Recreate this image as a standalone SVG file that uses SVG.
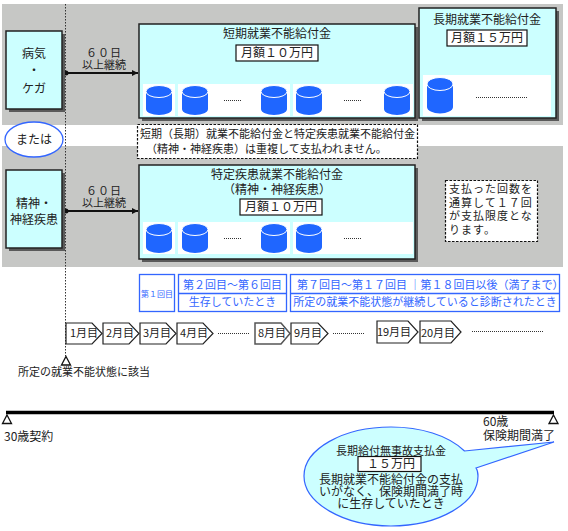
<svg xmlns="http://www.w3.org/2000/svg" xmlns:xlink="http://www.w3.org/1999/xlink" width="568" height="531" viewBox="0 0 568 531">
<style>
text{font-family:"Noto Sans CJK JP","Liberation Sans",sans-serif;fill:#222;font-size:12px;text-anchor:middle}
.s{font-size:11px}
.l{text-anchor:start}
.b{fill:#3366ff}
.band{fill:#c6c7c5}
.shadow{fill:#5a5a5a}
.panel{fill:#ccffff;stroke:#222;stroke-width:1.5}
.amt{fill:#fff;stroke:#111;stroke-width:1.2}
.strip{fill:#fff}
.blue{fill:#fff;stroke:#3366ff;stroke-width:1.3}
.note{fill:#fff;stroke:#111;stroke-width:1.2;stroke-dasharray:2.5 1.5}
.dots{stroke:#333;stroke-width:1;stroke-dasharray:1 1;fill:none}
.tri{fill:#fff;stroke:#111;stroke-width:1.3}
.pent{fill:#fff;stroke:#222;stroke-width:1.2}
.cyl{fill:#1f66ff}
.cylt{fill:#1f66ff;stroke:#fff;stroke-width:1}
.arrow{stroke:#111;stroke-width:2.2;fill:none;marker-end:url(#ah);marker-start:url(#dot)}
</style>
<defs>
<marker id="ah" markerUnits="userSpaceOnUse" markerWidth="8" markerHeight="8" refX="7" refY="4" orient="auto"><path d="M1 1L7 4L1 7Z" fill="#111"/></marker>
<marker id="dot" markerUnits="userSpaceOnUse" markerWidth="8" markerHeight="8" refX="4" refY="4"><circle cx="4" cy="4" r="2.5" fill="#111"/></marker>
<g id="cy"><path class="cyl" d="M0 6V24A13 6 0 0 0 26 24V6Z"/><ellipse class="cylt" cx="13" cy="6.500" rx="13" ry="6"/></g>
<g id="cyL"><path class="cyl" d="M0 7V30A13 6.500 0 0 0 26 30V7Z"/><ellipse class="cylt" cx="13" cy="7" rx="13" ry="6.500"/></g>
</defs>
<rect width="568" height="531" fill="#fff"/>
<rect class="band" x="2" y="4" width="561" height="121"/>
<rect class="band" x="2" y="146" width="561" height="121"/>

<g id="connectors">
<path d="M65.500 4V356" stroke="#333" stroke-width="1" stroke-dasharray="1.500 1.500" fill="none"/>
<path class="arrow" d="M66 73H138"/>
<path class="arrow" d="M66 211H138"/>
<path d="M6 412.500H554" stroke="#000" stroke-width="3.500" fill="none"/>
</g>

<g id="node-illness"><rect class="shadow" x="9" y="34" width="56" height="78"/><rect class="panel" x="6" y="31" width="56" height="78"/><text x="34" y="58">病気</text><text x="34" y="75">・</text><text x="34" y="93">ケガ</text></g>
<text class="s" x="104" y="57" letter-spacing="1">６０日</text><text class="s" x="104" y="69">以上継続</text>

<g id="node-short"><rect class="shadow" x="142" y="27" width="276" height="94"/><rect class="panel" x="139" y="24" width="276" height="94"/>
<text x="277" y="38">短期就業不能給付金</text>
<rect class="amt" x="236" y="45" width="82" height="16"/><text x="277" y="57">月額１０万円</text>
<rect class="strip" x="143" y="84" width="32" height="32"/><rect class="strip" x="178" y="84" width="112" height="32"/><rect class="strip" x="293" y="84" width="120" height="32"/>
<use xlink:href="#cy" x="146" y="85"/><use xlink:href="#cy" x="182" y="85"/><use xlink:href="#cy" x="261" y="85"/><use xlink:href="#cy" x="296" y="85"/><use xlink:href="#cy" x="384" y="85"/>
<path class="dots" d="M224 100.500H242M344 100.500H362"/></g>

<g id="node-long"><rect class="shadow" x="422" y="11" width="137" height="110"/><rect class="panel" x="419" y="8" width="137" height="110"/>
<text x="487" y="24">長期就業不能給付金</text>
<rect class="amt" x="447" y="30" width="80" height="16"/><text x="487" y="42">月額１５万円</text>
<rect class="strip" x="423" y="75" width="128" height="41"/>
<use xlink:href="#cyL" x="427" y="77"/>
<path class="dots" d="M476 97.500H528"/></g>

<g id="node-or"><ellipse cx="34" cy="139.500" rx="29" ry="17.500" fill="#fff" stroke="#3366ff" stroke-width="1.300"/><text x="34" y="144">または</text></g>

<g id="node-note"><rect class="note" x="137.500" y="124.500" width="280" height="34"/>
<text class="s" x="277.500" y="138">短期（長期）就業不能給付金と特定疾患就業不能給付金</text>
<text class="s l" x="146" y="153">（精神・神経疾患）は重複して支払われません。</text></g>

<g id="node-mental"><rect class="shadow" x="9" y="173" width="56" height="78"/><rect class="panel" x="6" y="170" width="56" height="78"/><text x="34" y="208">精神・</text><text x="34" y="224">神経疾患</text></g>
<text class="s" x="104" y="195" letter-spacing="1">６０日</text><text class="s" x="104" y="207">以上継続</text>

<g id="node-specific"><rect class="shadow" x="142" y="168" width="276" height="94"/><rect class="panel" x="139" y="165" width="276" height="94"/>
<text x="277" y="179">特定疾患就業不能給付金</text><text x="277" y="194">（精神・神経疾患）</text>
<rect class="amt" x="240" y="199" width="82" height="16"/><text x="281" y="211">月額１０万円</text>
<rect class="strip" x="143" y="222" width="32" height="32"/><rect class="strip" x="178" y="222" width="112" height="32"/><rect class="strip" x="293" y="222" width="120" height="32"/>
<use xlink:href="#cy" x="146" y="223"/><use xlink:href="#cy" x="182" y="223"/><use xlink:href="#cy" x="261" y="223"/><use xlink:href="#cy" x="296" y="223"/>
<path class="dots" d="M224 238.500H242M344 238.500H362"/></g>

<g id="node-limit"><rect class="note" x="445.500" y="180.500" width="92" height="61"/>
<g letter-spacing="1"><text class="s l" x="449" y="193">支払った回数を</text><text class="s l" x="449" y="207">通算して１７回</text><text class="s l" x="449" y="220">が支払限度とな</text><text class="s l" x="449" y="234">ります。</text></g></g>

<g id="node-first"><rect class="blue" x="139.500" y="274.500" width="35" height="37"/><text class="b" x="157" y="297" style="font-size:8px">第１回目</text></g>
<g id="node-second"><rect class="blue" x="178.500" y="274.500" width="108" height="37"/><path d="M178.500 293.500H286.500" stroke="#3366ff" stroke-width="1.300"/><text class="s b" x="232.500" y="289">第２回目～第６回目</text><text class="s b" x="232.500" y="306">生存していたとき</text></g>
<g id="node-third"><rect class="blue" x="290.500" y="274.500" width="269" height="37"/><path d="M290.500 293.500H559.500" stroke="#3366ff" stroke-width="1.300"/><text class="s b l" x="297" y="289">第７回目～第１７回目 ｜第１８回目以後（満了まで）</text><text class="s b" x="425" y="306">所定の就業不能状態が継続していると診断されたとき</text></g>

<g id="months">
<g id="m1"><path class="pent" d="M66 323H92L102 333.500L92 344H66Z"/><text class="s" x="84" y="337">1月目</text></g>
<g id="m2"><path class="pent" d="M103 323H129L139 333.500L129 344H103Z"/><text class="s" x="120" y="337">2月目</text></g>
<g id="m3"><path class="pent" d="M140 323H166L176 333.500L166 344H140Z"/><text class="s" x="157" y="337">3月目</text></g>
<g id="m4"><path class="pent" d="M177 323H203L213 333.500L203 344H177Z"/><text class="s" x="194" y="337">4月目</text></g>
<path class="dots" d="M218 333.500H249"/>
<g id="m8"><path class="pent" d="M255 323H281L290 333.500L281 344H255Z" style="stroke:#555;stroke-width:1.500"/><text class="s" x="272" y="337">8月目</text></g>
<g id="m9"><path class="pent" d="M291 323H318L328 333.500L318 344H291Z"/><text class="s" x="308" y="337">9月目</text></g>
<path class="dots" d="M333 333.500H364"/>
<g id="m19"><path class="pent" d="M377 321H408L418 332L408 343H377Z"/><text class="s" x="394" y="336">19月目</text></g>
<g id="m20"><path class="pent" d="M420 321H451L461 332L451 343H420Z"/><text class="s" x="438" y="337">20月目</text></g>
<path class="dots" d="M472 331.500H543"/>
</g>

<g id="node-trigger"><path class="tri" d="M66 356.500L70.500 365H61.500Z"/><text class="s l" x="18" y="376">所定の就業不能状態に該当</text></g>
<g id="node-start"><path class="tri" d="M7 415L11.500 423.500H2.500Z"/><text class="l" x="4" y="441">30歳契約</text></g>
<g id="node-end"><path class="tri" d="M553.500 415L558 423.500H549Z"/><text class="l" x="483" y="426">60歳</text><text class="l" x="483" y="440">保険期間満了</text></g>

<g id="node-callout"><path d="M464.500 451C448 435 420 427 391 427C343 427 304 449 304 476C304 503 343 526 391 526C439 526 478 503 478 476C478 473 477.500 470 476 468L554 442Z" fill="#ccffff" stroke="#3366ff" stroke-width="1.200"/>
<text class="s" x="391" y="455">長期給付無事故支払金</text>
<rect class="amt" x="358" y="456.500" width="63" height="15"/><text x="391" y="468">１５万円</text>
<text x="391" y="484">長期就業不能給付金の支払</text><text x="391" y="496">いがなく、保険期間満了時</text><text x="391" y="508">に生存していたとき</text></g>
</svg>
